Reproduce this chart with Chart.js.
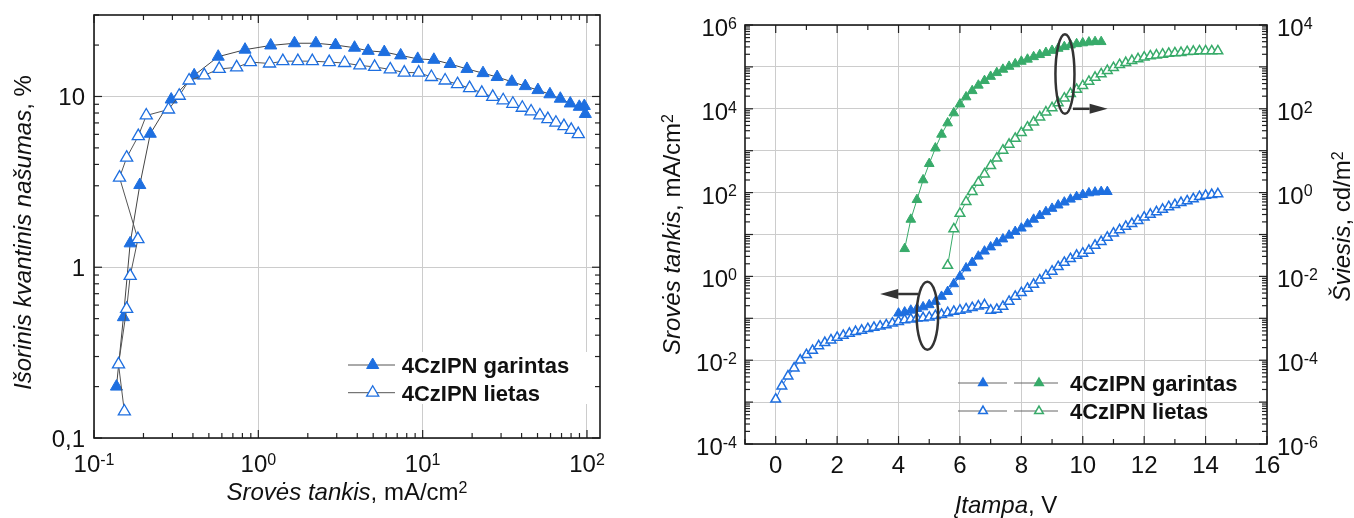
<!DOCTYPE html>
<html>
<head>
<meta charset="utf-8">
<script src="https://cdn.jsdelivr.net/npm/chart.js@4/dist/chart.umd.min.js"></script>
<style>
  html,body{margin:0;padding:0;background:#fff;}
  #wrap{position:relative;width:1354px;height:518px;overflow:hidden;}
  #left{position:absolute;left:0;top:0;}
  #right{position:absolute;left:640px;top:0;}
</style>
</head>
<body>
<div id="wrap">
  <canvas id="left" width="640" height="518"></canvas>
  <canvas id="right" width="714" height="518"></canvas>
</div>
<script>
// ---------------- DATA: left chart (EQE vs current density) ----------------
const eqeCurrent_garintas = [0.137,0.151,0.166,0.19,0.22,0.295,0.407,0.57,0.83,1.19,1.66,2.24,2.95,3.85,4.66,5.84,7.35,9.33,11.7,14.7,18.6,23.3,28.4,34.9,42.1,50.3,59.5,68.8,79.1,89.8,96.3,97.7];
const eqe_garintas        = [0.20,0.51,1.38,3.03,6.05,9.6,13.3,17.1,18.8,19.9,20.5,20.5,20.0,19.3,18.5,18.2,17.4,16.6,16.4,15.5,14.5,13.7,13.0,12.2,11.5,10.9,10.3,9.7,9.1,8.7,8.8,7.9];
const eqeCurrent_lietas   = [0.153,0.141,0.158,0.166,0.185,0.143,0.158,0.186,0.208,0.284,0.33,0.379,0.469,0.578,0.738,0.894,1.17,1.41,1.74,2.13,2.70,3.35,4.15,5.1,6.35,7.73,9.46,11.3,13.7,16.3,19.3,22.9,26.7,30.9,35.4,40.4,45.7,51.7,57.8,64.7,72.4,80.2,88.5];
const eqe_lietas          = [0.143,0.27,0.57,0.89,1.46,3.35,4.38,5.86,7.74,8.39,10.1,12.4,13.3,14.5,14.8,15.9,15.6,16.1,16.1,16.1,15.9,15.7,15.2,14.9,14.4,13.8,13.8,13.0,12.4,11.8,11.2,10.5,9.95,9.5,9.06,8.59,8.17,7.74,7.37,7.02,6.7,6.38,6.02];
const leftXTicks = [0.1,1,10,100];
const leftXExp   = ['-1','0','1','2'];
const leftYTicks = [0.1,1,10];
const leftYLabels= ['0,1','1','10'];

// ---------------- DATA: right chart (J and L vs voltage) ----------------
const voltJ_garintas = [4,4.2,4.4,4.6,4.8,5,5.2,5.4,5.6,5.8,6,6.2,6.4,6.6,6.8,7,7.2,7.4,7.6,7.8,8,8.2,8.4,8.6,8.8,9,9.2,9.4,9.6,9.8,10,10.2,10.4,10.6,10.8];
const current_garintas = [0.132,0.14,0.155,0.17,0.186,0.209,0.251,0.331,0.432,0.661,1,1.58,2.14,3.02,3.98,5.01,6.31,7.76,9.55,11.7,14.1,17.8,22.9,28.2,34.7,41.7,50.1,58.9,69.2,79.4,89.1,97.7,102,105,105];
const voltL_garintas = [4.2,4.4,4.6,4.8,5,5.2,5.4,5.6,5.8,6,6.2,6.4,6.6,6.8,7,7.2,7.4,7.6,7.8,8,8.2,8.4,8.6,8.8,9,9.2,9.4,9.6,9.8,10,10.2,10.4,10.6];
const lum_garintas = [0.0457,0.229,0.676,2,4.9,11.5,24.5,45.7,79.4,129,191,269,363,468,589,724,871,1023,1175,1349,1514,1738,1950,2188,2455,2754,3020,3311,3548,3715,3890,3981,3981];
const voltJ_lietas = [0,0.2,0.4,0.6,0.8,1,1.2,1.4,1.6,1.8,2,2.2,2.4,2.6,2.8,3,3.2,3.4,3.6,3.8,4,4.2,4.4,4.6,4.8,5,5.2,5.4,5.6,5.8,6,6.2,6.4,6.6,6.8,7,7.2,7.4,7.6,7.8,8,8.2,8.4,8.6,8.8,9,9.2,9.4,9.6,9.8,10,10.2,10.4,10.6,10.8,11,11.2,11.4,11.6,11.8,12,12.2,12.4,12.6,12.8,13,13.2,13.4,13.6,13.8,14,14.2,14.4];
const current_lietas = [0.00117,0.0024,0.00417,0.00646,0.01,0.0135,0.017,0.0219,0.0263,0.0302,0.0347,0.0389,0.0437,0.0479,0.0513,0.0562,0.0603,0.0646,0.0692,0.0759,0.0832,0.0912,0.0955,0.1,0.102,0.106,0.115,0.123,0.135,0.145,0.155,0.166,0.178,0.195,0.209,0.155,0.162,0.191,0.251,0.331,0.407,0.513,0.646,0.813,1.05,1.32,1.7,2.14,2.63,3.16,3.55,4.17,5.5,6.76,8.51,10.7,12.9,15.5,18.2,21.4,25.7,30.2,34.7,39.8,45.7,51.3,57.5,63.1,70.8,79.4,85.1,89.1,93.3];
const voltL_lietas = [5.6,5.8,6,6.2,6.4,6.6,6.8,7,7.2,7.4,7.6,7.8,8,8.2,8.4,8.6,8.8,9,9.2,9.4,9.6,9.8,10,10.2,10.4,10.6,10.8,11,11.2,11.4,11.6,11.8,12,12.2,12.4,12.6,12.8,13,13.2,13.4,13.6,13.8,14,14.2,14.4];
const lum_lietas = [0.0182,0.135,0.316,0.603,1.05,1.74,2.75,4.37,6.61,10.2,14.1,19.5,26.9,36.3,47.9,63.1,83.2,105,138,178,229,288,355,447,562,676,813,955,1122,1259,1413,1549,1698,1820,1905,1995,2089,2138,2188,2291,2344,2399,2399,2399,2399];
const rightXTicks = [0,2,4,6,8,10,12,14,16];
const rightYTicks = [1e-4,1e-2,1,1e2,1e4,1e6];
const rightYExp   = ['-4','-2','0','2','4','6'];
const rightY2Ticks = [1e-6,1e-4,1e-2,1,1e2,1e4];
const rightY2Exp   = ['-6','-4','-2','0','2','4'];
const legendLabels = ['4CzIPN garintas','4CzIPN lietas'];

// annotation loops (data coordinates: voltage, current density on left axis)
const loops = {
  centerV: [9.42, 4.94], centerJ: [6.76e4, 0.115],
  halfV: [0.31, 0.35], halfDecades: [0.95, 0.81],
  arrowFromV: [9.68, 4.64], arrowToV: [10.81, 3.40], arrowJ: [1e4, 0.38]
};

// ---------------- helpers ----------------
const FONT = "'Liberation Sans', Arial, Helvetica, sans-serif";
const BLUE = '#1e6fe0';
const GREEN = '#38ab6a';
const INK = '#111';

function pts(xs, ys){ return xs.map((x,i)=>({x:x, y:ys[i]})); }
function fontFor(p,size){
  const s = p.sup ? Math.round(size*0.66) : size;
  return (p.italic?'italic ':'') + (p.bold?'bold ':'') + s + 'px ' + FONT;
}
function partsWidth(ctx, parts, size){
  let w = 0;
  for (const p of parts){ ctx.font = fontFor(p,size); w += ctx.measureText(p.t).width; }
  return w;
}
function drawParts(ctx, parts, x, y, size, align){
  const w = partsWidth(ctx, parts, size);
  let cx = align==='center' ? x - w/2 : (align==='right' ? x - w : x);
  ctx.textAlign = 'left'; ctx.textBaseline = 'alphabetic';
  for (const p of parts){
    ctx.font = fontFor(p,size);
    ctx.fillText(p.t, cx, p.sup ? y - size*0.3 : y);
    cx += ctx.measureText(p.t).width;
  }
}
function line(ctx,x1,y1,x2,y2){ ctx.beginPath(); ctx.moveTo(x1,y1); ctx.lineTo(x2,y2); ctx.stroke(); }
function logMarks(min,max){
  const out = [];
  for (let d = Math.floor(Math.log10(min))-1; d <= Math.ceil(Math.log10(max)); d++){
    for (let k=1;k<=9;k++){
      const v = k*Math.pow(10,d);
      if (v >= min*0.999 && v <= max*1.001) out.push({v:v, major:k===1});
    }
  }
  return out;
}
function arrow(ctx,x1,y1,x2,y2){
  const ang = Math.atan2(y2-y1,x2-x1), hl = 18, hw = 5;
  const bx = x2-hl*Math.cos(ang), by = y2-hl*Math.sin(ang);
  line(ctx,x1,y1,bx,by);
  ctx.beginPath(); ctx.moveTo(x2,y2);
  ctx.lineTo(bx - hw*Math.sin(ang), by + hw*Math.cos(ang));
  ctx.lineTo(bx + hw*Math.sin(ang), by - hw*Math.cos(ang));
  ctx.closePath(); ctx.fill();
}
function marker(ctx, x, y, r, fill, stroke, bw){
  ctx.save();
  ctx.fillStyle = fill; ctx.strokeStyle = stroke; ctx.lineWidth = bw;
  Chart.helpers.drawPoint(ctx, {pointStyle:'triangle', radius:r, borderWidth:bw, rotation:0}, x, y);
  ctx.restore();
}
function setTicks(values){ return (axis) => { axis.ticks = values.map(v=>({value:v})); }; }

// ---------------- LEFT chart ----------------
const decorLeft = {
  id:'decorLeft',
  afterDatasetsDraw(chart){
    const ctx = chart.ctx, a = chart.chartArea, xs = chart.scales.x, ys = chart.scales.y;
    ctx.save();
    ctx.strokeStyle = '#222'; ctx.lineWidth = 1.2;
    logMarks(xs.min, xs.max).forEach(t=>{
      const x = xs.getPixelForValue(t.v), L = t.major ? 8 : 5;
      line(ctx,x,a.bottom,x,a.bottom-L); line(ctx,x,a.top,x,a.top+L);
    });
    logMarks(ys.min, ys.max).forEach(t=>{
      const y = ys.getPixelForValue(t.v), L = t.major ? 8 : 5;
      line(ctx,a.left,y,a.left+L,y); line(ctx,a.right,y,a.right-L,y);
    });
    ctx.lineWidth = 1.6; ctx.strokeStyle = '#1a1a1a';
    ctx.strokeRect(a.left, a.top, a.right-a.left, a.bottom-a.top);

    ctx.fillStyle = INK;
    leftXTicks.forEach((v,i)=> drawParts(ctx,[{t:'10'},{t:leftXExp[i],sup:true}], xs.getPixelForValue(v), a.bottom+34, 24, 'center'));
    leftYTicks.forEach((v,i)=> drawParts(ctx,[{t:leftYLabels[i]}], a.left-9, ys.getPixelForValue(v)+8.5, 24, 'right'));

    drawParts(ctx,[{t:'Srovės tankis',italic:true},{t:', mA/cm'},{t:'2',sup:true}], (a.left+a.right)/2, 500, 24, 'center');
    ctx.save(); ctx.translate(31, (a.top+a.bottom)/2 + 6); ctx.rotate(-Math.PI/2);
    drawParts(ctx,[{t:'Išorinis kvantinis našumas',italic:true},{t:', %'}], 0, 0, 24, 'center');
    ctx.restore();

    // legend with white box
    ctx.fillStyle = '#fff';
    ctx.fillRect(a.right-258, a.bottom-86, 250, 52);
    const rows = [a.bottom-73, a.bottom-45.3];
    const styles = [[BLUE,BLUE,1],['#fff',BLUE,1.3]];
    rows.forEach((y,i)=>{
      ctx.strokeStyle = '#555'; ctx.lineWidth = 1;
      line(ctx, a.right-252, y, a.right-205, y);
      marker(ctx, a.right-227.3, y, 7, styles[i][0], styles[i][1], styles[i][2]);
      ctx.fillStyle = INK;
      drawParts(ctx,[{t:legendLabels[i],bold:true}], a.right-198.3, y+8, 22, 'left');
    });
    ctx.restore();
  }
};

new Chart(document.getElementById('left'), {
  type:'scatter',
  data:{ datasets:[
    { label:legendLabels[1], data:pts(eqeCurrent_lietas, eqe_lietas), showLine:true, order:1,
      borderColor:'#555', borderWidth:1, pointStyle:'triangle', pointRadius:7,
      pointBackgroundColor:'#fff', pointBorderColor:BLUE, pointBorderWidth:1.3 },
    { label:legendLabels[0], data:pts(eqeCurrent_garintas, eqe_garintas), showLine:true, order:2,
      borderColor:'#444', borderWidth:1, pointStyle:'triangle', pointRadius:7,
      pointBackgroundColor:BLUE, pointBorderColor:BLUE, pointBorderWidth:1 }
  ]},
  options:{
    responsive:false, animation:false, events:[],
    layout:{padding:{left:94,right:40,top:15,bottom:80}},
    plugins:{legend:{display:false}, tooltip:{enabled:false}},
    scales:{
      x:{type:'logarithmic', min:0.1, max:120, afterBuildTicks:setTicks(leftXTicks),
         ticks:{display:false}, grid:{color:'#cccccc', lineWidth:1, drawTicks:false}, border:{display:false}},
      y:{type:'logarithmic', min:0.1, max:30, afterBuildTicks:setTicks(leftYTicks),
         ticks:{display:false}, grid:{color:'#cccccc', lineWidth:1, drawTicks:false}, border:{display:false}}
    }
  },
  plugins:[decorLeft]
});

// ---------------- RIGHT chart ----------------
const decorRight = {
  id:'decorRight',
  afterDatasetsDraw(chart){
    const ctx = chart.ctx, a = chart.chartArea, xs = chart.scales.x, ys = chart.scales.y, y2 = chart.scales.y2;
    ctx.save();
    ctx.strokeStyle = '#222'; ctx.lineWidth = 1.2;
    for (let v = Math.ceil(xs.min); v <= xs.max; v++){
      const x = xs.getPixelForValue(v), L = (v%2===0) ? 8 : 5;
      line(ctx,x,a.bottom,x,a.bottom-L); line(ctx,x,a.top,x,a.top+L);
    }
    logMarks(ys.min, ys.max).forEach(t=>{
      const y = ys.getPixelForValue(t.v), L = t.major ? 8 : 5;
      line(ctx,a.left,y,a.left+L,y);
    });
    logMarks(y2.min, y2.max).forEach(t=>{
      const y = y2.getPixelForValue(t.v), L = t.major ? 8 : 5;
      line(ctx,a.right,y,a.right-L,y);
    });
    ctx.lineWidth = 1.6; ctx.strokeStyle = '#1a1a1a';
    ctx.strokeRect(a.left, a.top, a.right-a.left, a.bottom-a.top);

    // loops + arrows
    ctx.strokeStyle = '#333'; ctx.fillStyle = '#333'; ctx.lineWidth = 2.5;
    for (let i=0;i<loops.centerV.length;i++){
      const cx = xs.getPixelForValue(loops.centerV[i]);
      const cy = ys.getPixelForValue(loops.centerJ[i]);
      const rx = xs.getPixelForValue(loops.centerV[i]+loops.halfV[i]) - cx;
      const ry = ys.getPixelForValue(loops.centerJ[i]/Math.pow(10,loops.halfDecades[i])) - cy;
      ctx.beginPath(); ctx.ellipse(cx, cy, Math.abs(rx), Math.abs(ry), 0, 0, Math.PI*2); ctx.stroke();
      const ay = ys.getPixelForValue(loops.arrowJ[i]);
      arrow(ctx, xs.getPixelForValue(loops.arrowFromV[i]), ay, xs.getPixelForValue(loops.arrowToV[i]), ay);
    }

    ctx.fillStyle = INK;
    rightXTicks.forEach(v=> drawParts(ctx,[{t:String(v)}], xs.getPixelForValue(v), a.bottom+29, 24, 'center'));
    rightYTicks.forEach((v,i)=> drawParts(ctx,[{t:'10'},{t:rightYExp[i],sup:true}], a.left-8, ys.getPixelForValue(v)+11, 24, 'right'));
    rightY2Ticks.forEach((v,i)=> drawParts(ctx,[{t:'10'},{t:rightY2Exp[i],sup:true}], a.right+10, y2.getPixelForValue(v)+11, 24, 'left'));

    drawParts(ctx,[{t:'Įtampa',italic:true},{t:', V'}], (a.left+a.right)/2, 513, 24, 'center');
    ctx.save(); ctx.translate(40, (a.top+a.bottom)/2); ctx.rotate(-Math.PI/2);
    drawParts(ctx,[{t:'Srovės tankis',italic:true},{t:', mA/cm'},{t:'2',sup:true}], 0, 0, 24, 'center');
    ctx.restore();
    ctx.save(); ctx.translate(710, (a.top+a.bottom)/2 - 8); ctx.rotate(-Math.PI/2);
    drawParts(ctx,[{t:'Šviesis',italic:true},{t:', cd/m'},{t:'2',sup:true}], 0, 0, 24, 'center');
    ctx.restore();

    // legend
    const rows = [a.bottom-61, a.bottom-33];
    const fills = [[BLUE,GREEN],['#fff','#fff']];
    rows.forEach((y,i)=>{
      ctx.strokeStyle = '#666'; ctx.lineWidth = 1;
      line(ctx, a.left+213, y, a.left+262, y);
      line(ctx, a.left+269, y, a.left+313, y);
      marker(ctx, a.left+238, y, 5, fills[i][0], BLUE, 1.5);
      marker(ctx, a.left+294, y, 5, fills[i][1], GREEN, 1.5);
      ctx.fillStyle = INK;
      drawParts(ctx,[{t:legendLabels[i],bold:true}], a.left+325, y+8, 22, 'left');
    });
    ctx.restore();
  }
};

new Chart(document.getElementById('right'), {
  type:'scatter',
  data:{ datasets:[
    { label:'J lietas', data:pts(voltJ_lietas, current_lietas), yAxisID:'y', showLine:true, order:1,
      borderColor:BLUE, borderWidth:1, pointStyle:'triangle', pointRadius:5.6,
      pointBackgroundColor:'#fff', pointBorderColor:BLUE, pointBorderWidth:1.5 },
    { label:'J garintas', data:pts(voltJ_garintas, current_garintas), yAxisID:'y', showLine:true, order:2,
      borderColor:BLUE, borderWidth:1, pointStyle:'triangle', pointRadius:5.6,
      pointBackgroundColor:BLUE, pointBorderColor:BLUE, pointBorderWidth:1 },
    { label:'L lietas', data:pts(voltL_lietas, lum_lietas), yAxisID:'y2', showLine:true, order:3,
      borderColor:GREEN, borderWidth:1, pointStyle:'triangle', pointRadius:5.6,
      pointBackgroundColor:'#fff', pointBorderColor:GREEN, pointBorderWidth:1.5 },
    { label:'L garintas', data:pts(voltL_garintas, lum_garintas), yAxisID:'y2', showLine:true, order:4,
      borderColor:GREEN, borderWidth:1, pointStyle:'triangle', pointRadius:5.6,
      pointBackgroundColor:GREEN, pointBorderColor:GREEN, pointBorderWidth:1 }
  ]},
  options:{
    responsive:false, animation:false, events:[],
    layout:{padding:{left:105,right:87,top:25,bottom:74}},
    plugins:{legend:{display:false}, tooltip:{enabled:false}},
    scales:{
      x:{type:'linear', min:-1, max:16, afterBuildTicks:setTicks(rightXTicks),
         ticks:{display:false}, grid:{color:'#cccccc', lineWidth:1, drawTicks:false}, border:{display:false}},
      y:{type:'logarithmic', position:'left', min:1e-4, max:1e6,
         afterBuildTicks:setTicks([1e-4,1e-3,1e-2,1e-1,1,10,100,1e3,1e4,1e5,1e6]),
         ticks:{display:false}, grid:{color:'#cccccc', lineWidth:1, drawTicks:false}, border:{display:false}},
      y2:{type:'logarithmic', position:'right', min:1e-6, max:1e4, afterBuildTicks:setTicks(rightY2Ticks),
         ticks:{display:false}, grid:{display:false, drawTicks:false}, border:{display:false}}
    }
  },
  plugins:[decorRight]
});
</script>
</body>
</html>
